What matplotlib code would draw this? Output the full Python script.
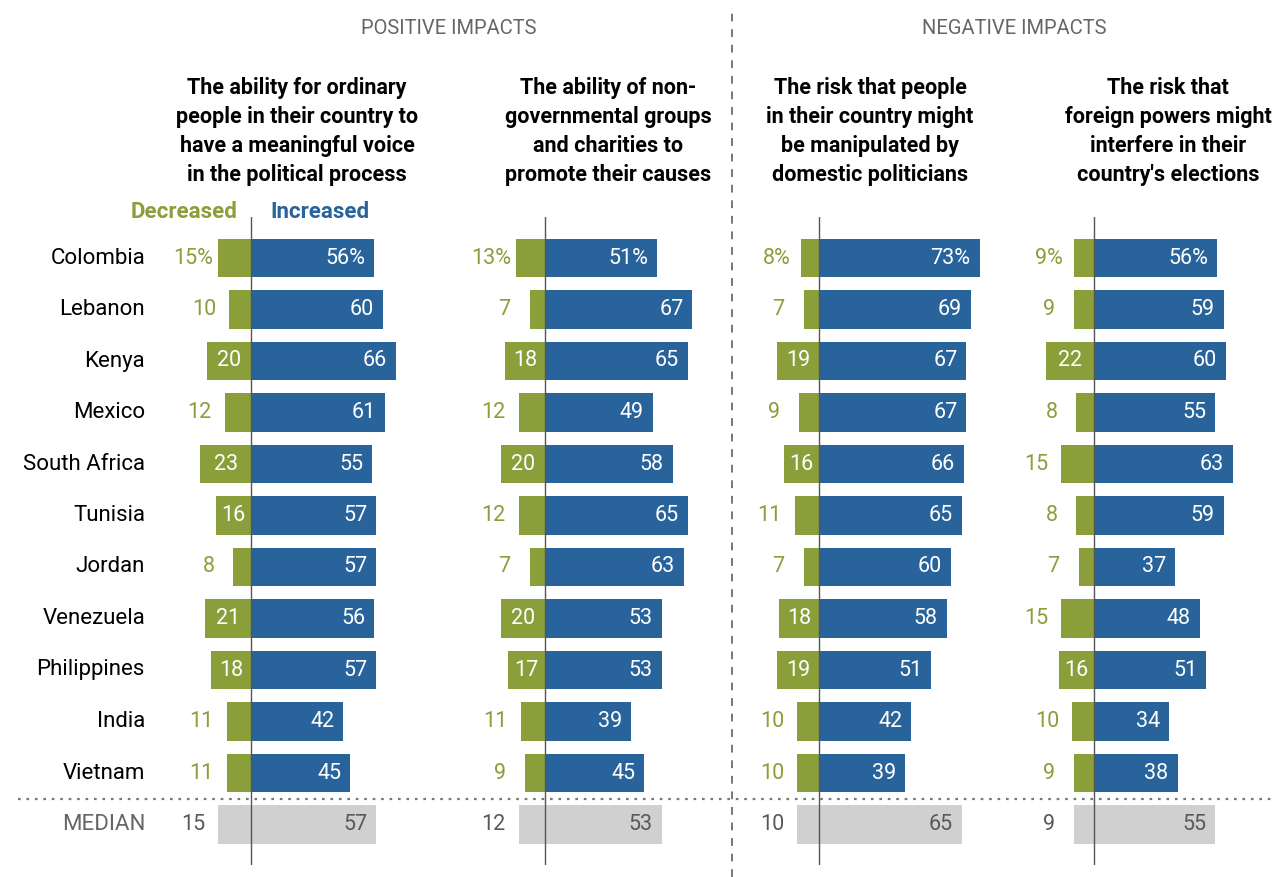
import matplotlib
matplotlib.use("Agg")
import matplotlib.pyplot as plt
from matplotlib import transforms
from matplotlib.lines import Line2D

# ---------------- data ----------------
countries = ["Colombia", "Lebanon", "Kenya", "Mexico", "South Africa", "Tunisia",
             "Jordan", "Venezuela", "Philippines", "India", "Vietnam"]
median_label = "MEDIAN"

titles = [
    "The ability for ordinary\npeople in their country to\nhave a meaningful voice\nin the political process",
    "The ability of non-\ngovernmental groups\nand charities to\npromote their causes",
    "The risk that people\nin their country might\nbe manipulated by\ndomestic politicians",
    "The risk that\nforeign powers might\ninterfere in their\ncountry's elections",
]
section_titles = ["POSITIVE IMPACTS", "NEGATIVE IMPACTS"]
legend_labels = ["Decreased", "Increased"]

voice_dec = [15, 10, 20, 12, 23, 16, 8, 21, 18, 11, 11]
voice_inc = [56, 60, 66, 61, 55, 57, 57, 56, 57, 42, 45]
voice_med = (15, 57)

ngo_dec = [13, 7, 18, 12, 20, 12, 7, 20, 17, 11, 9]
ngo_inc = [51, 67, 65, 49, 58, 65, 63, 53, 53, 39, 45]
ngo_med = (12, 53)

domestic_dec = [8, 7, 19, 9, 16, 11, 7, 18, 19, 10, 10]
domestic_inc = [73, 69, 67, 67, 66, 65, 60, 58, 51, 42, 39]
domestic_med = (10, 65)

foreign_dec = [9, 9, 22, 8, 15, 8, 7, 15, 16, 10, 9]
foreign_inc = [56, 59, 60, 55, 63, 59, 37, 48, 51, 34, 38]
foreign_med = (9, 55)

panels = [
    (voice_dec, voice_inc, voice_med),
    (ngo_dec, ngo_inc, ngo_med),
    (domestic_dec, domestic_inc, domestic_med),
    (foreign_dec, foreign_inc, foreign_med),
]

# ---------------- style ----------------
GREEN = "#8A9E3A"
BLUE = "#29639B"
GRAY_BAR = "#D0D0D0"
GRAY_TXT = "#595959"

plt.rcParams["font.family"] = ["Roboto", "DejaVu Sans"]

W, H = 1276, 877
fig = plt.figure(figsize=(W / 100, H / 100), dpi=100)

PX_PER_UNIT = 2.2
zero_px = [251, 545, 819, 1094]
XMIN, XMAX = -35, 75
row0_px = 258
row_step = 51.5
ax_top_px, ax_bot_px = 217, 865
ytop = (ax_top_px - row0_px) / row_step
ybot = (ax_bot_px - row0_px) / row_step

axes = []
for z in zero_px:
    left = z + XMIN * PX_PER_UNIT
    width = (XMAX - XMIN) * PX_PER_UNIT
    ax = fig.add_axes([left / W, 1 - ax_bot_px / H, width / W, (ax_bot_px - ax_top_px) / H])
    ax.set_xlim(XMIN, XMAX)
    ax.set_ylim(ybot, ytop)
    ax.axis("off")
    axes.append(ax)

FS = 15.5
bar_h = 0.74
rows = list(range(len(countries)))
med_row = len(countries)


def shifted(ax, dx_px):
    return ax.transData + transforms.ScaledTranslation(dx_px / 100, 0, fig.dpi_scale_trans)


for ax, (dec, inc, med) in zip(axes, panels):
    ax.barh(rows, [-d for d in dec], height=bar_h, color=GREEN, zorder=2)
    ax.barh(rows, inc, height=bar_h, color=BLUE, zorder=2)
    ax.barh([med_row], [med[0] + med[1]], left=[-med[0]], height=bar_h, color=GRAY_BAR, zorder=2)
    ax.axvline(0, color="#555555", lw=1.0, zorder=3)
    for i, (d, v) in enumerate(zip(dec, inc)):
        ds = f"{d}%" if i == 0 else f"{d}"
        vs = f"{v}%" if i == 0 else f"{v}"
        if d >= 16:
            ax.text(-d / 2, i, ds, ha="center", va="center", color="white", fontsize=FS, zorder=4)
        else:
            ax.text(-d, i, ds, ha="center", va="center", color=GREEN, fontsize=FS,
                    transform=shifted(ax, -25), zorder=4)
        ax.text(v, i, vs, ha="right", va="center", color="white", fontsize=FS,
                transform=shifted(ax, -9), zorder=4)
    ax.text(-med[0], med_row, f"{med[0]}", ha="center", va="center", color=GRAY_TXT,
            fontsize=FS, transform=shifted(ax, -25), zorder=4)
    ax.text(med[1], med_row, f"{med[1]}", ha="right", va="center", color=GRAY_TXT,
            fontsize=FS, transform=shifted(ax, -9), zorder=4)

# country labels
lab_tr = transforms.blended_transform_factory(fig.transFigure, axes[0].transData)
for i, c in enumerate(countries):
    fig.text(145 / W, i, c, ha="right", va="center", fontsize=16, color="black",
             transform=lab_tr)
fig.text(145 / W, med_row, median_label, ha="right", va="center", fontsize=16,
         color="#666666", transform=lab_tr)

# dotted separator above median row
fig.add_artist(Line2D([18 / W, 1.0], [med_row - 0.5, med_row - 0.5], transform=lab_tr,
                      color="#777777", lw=1.6, linestyle=(0, (1.2, 2.6))))
# dashed vertical divider
fig.add_artist(Line2D([732 / W, 732 / W], [0, 1 - 8 / H], transform=fig.transFigure,
                      color="#777777", lw=1.4, linestyle=(0, (4, 4))))

# section titles
fig.text(449 / W, 1 - 29 / H, section_titles[0], ha="center", va="center", fontsize=14.5,
         color="#666666")
fig.text(1014 / W, 1 - 29 / H, section_titles[1], ha="center", va="center", fontsize=14.5,
         color="#666666")

# panel titles
title_cx = [297, 608, 870, 1168]
for cx, t in zip(title_cx, titles):
    fig.text(cx / W, 1 - 77 / H, t, ha="center", va="top", fontsize=15.5,
             fontweight="bold", color="black", linespacing=1.42)

# legend
fig.text(237 / W, 1 - 212 / H, legend_labels[0], ha="right", va="center", fontsize=16,
         fontweight="bold", color=GREEN)
fig.text(270 / W, 1 - 212 / H, legend_labels[1], ha="left", va="center", fontsize=16,
         fontweight="bold", color=BLUE)

fig.savefig("out.png", dpi=100, facecolor="white")
